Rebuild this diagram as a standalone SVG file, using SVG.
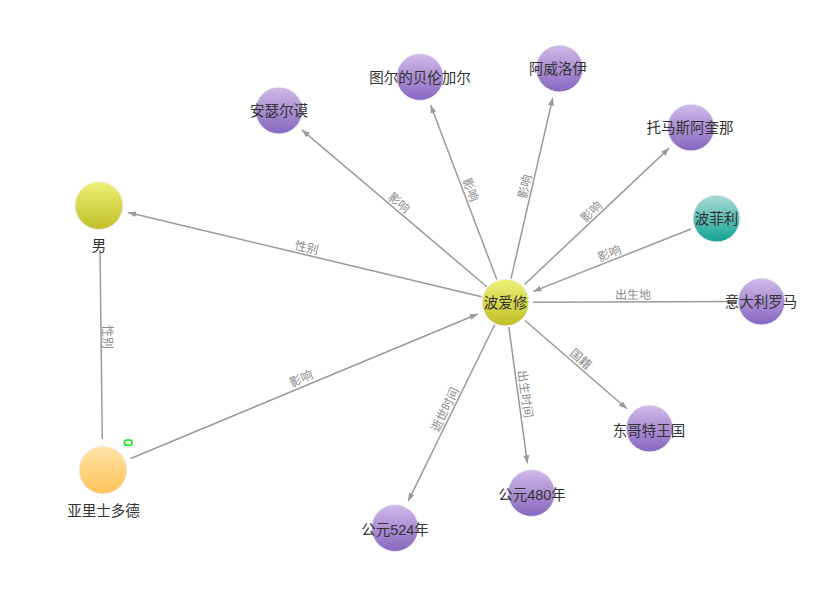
<svg xmlns="http://www.w3.org/2000/svg" width="832" height="602" viewBox="0 0 832 602">
<style>
.edge{stroke:#9a9a9a;stroke-width:1.5;fill:none}
.arr{marker-end:url(#ah)}
.el{font-family:"Liberation Sans","Noto Sans CJK SC",sans-serif;font-size:12px;fill:#8c8c8c;text-anchor:middle}
.nl{font-family:"Liberation Sans","Noto Sans CJK SC",sans-serif;font-size:14.5px;fill:#333;text-anchor:middle}
.purple{fill:url(#gPurple)}
.yellow{fill:url(#gYellow)}
.teal{fill:url(#gTeal)}
.orange{fill:url(#gOrange)}
.node circle{stroke:#f4f0f8;stroke-width:1}
</style>
<defs>
<linearGradient id="gPurple" x1="0" y1="0" x2="0" y2="1"><stop offset="0" stop-color="#cfbbe8"/><stop offset="1" stop-color="#8766c0"/></linearGradient>
<linearGradient id="gYellow" x1="0" y1="0" x2="0" y2="1"><stop offset="0" stop-color="#eef277"/><stop offset="1" stop-color="#c0bf28"/></linearGradient>
<linearGradient id="gTeal" x1="0" y1="0" x2="0" y2="1"><stop offset="0" stop-color="#abdcd7"/><stop offset="1" stop-color="#11a293"/></linearGradient>
<linearGradient id="gOrange" x1="0" y1="0" x2="0" y2="1"><stop offset="0" stop-color="#ffe4a8"/><stop offset="1" stop-color="#ffc25a"/></linearGradient>
<marker id="ah" markerUnits="userSpaceOnUse" markerWidth="9" markerHeight="7" refX="8" refY="3.5" orient="auto"><path d="M0,0.5 L8,3.5 L0,6.5 Z" fill="#9a9a9a"/></marker>
</defs>
<rect width="832" height="602" fill="#fff"/>
<g id="connectors">
<line class="edge arr" x1="486.8" y1="286.7" x2="301.9" y2="129.9"/>
<line class="edge arr" x1="496.8" y1="279.6" x2="430.6" y2="105.1"/>
<line class="edge arr" x1="511" y1="278.6" x2="552.8" y2="97.7"/>
<line class="edge arr" x1="524.5" y1="284.5" x2="669.2" y2="148.1"/>
<line class="edge arr" x1="691" y1="229" x2="533.4" y2="291.4"/>
<line class="edge" x1="533" y1="302.3" x2="735" y2="301.6"/>
<line class="edge arr" x1="525" y1="320.5" x2="626.9" y2="408.7"/>
<line class="edge arr" x1="508.8" y1="326.8" x2="527.4" y2="463.3"/>
<line class="edge arr" x1="494.7" y1="324.5" x2="408.2" y2="501.1"/>
<line class="edge arr" x1="481.7" y1="296.8" x2="128.2" y2="212.5"/>
<line class="edge" x1="102.3" y1="439" x2="100" y2="250"/>
<line class="edge arr" x1="130.7" y1="458.5" x2="477.8" y2="314"/>
<g id="edge-labels">
<text class="el" transform="translate(394.4,208.3) rotate(40.3)" y="-3">影响</text>
<text class="el" transform="translate(463.7,192.4) rotate(69.2)" y="-3">影响</text>
<text class="el" transform="translate(531.9,188.2) rotate(-77)" y="-3">影响</text>
<text class="el" transform="translate(596.3,216.9) rotate(-43.3)" y="-3">影响</text>
<text class="el" transform="translate(612,260) rotate(-21.7)" y="-3">影响</text>
<text class="el" transform="translate(633,302) rotate(-0.2)" y="-3">出生地</text>
<text class="el" transform="translate(576,364.5) rotate(41.2)" y="-3">国籍</text>
<text class="el" transform="translate(518.1,395) rotate(82.2)" y="-3">出生时间</text>
<text class="el" transform="translate(451.5,412.8) rotate(-63.9)" y="-3">逝世时间</text>
<text class="el" transform="translate(305,254.6) rotate(13.4)" y="-3">性别</text>
<text class="el" transform="translate(100.5,337) rotate(90)" y="-2">性别</text>
<text class="el" transform="translate(304.3,386.3) rotate(-22.6)" y="-4">影响</text>
</g>
</g>
<g id="node-boaixiu" class="node"><circle class="yellow" cx="505.5" cy="302.5" r="23.5"/><text class="nl" x="505.5" y="307.5">波爱修</text></g>
<g id="node-nan" class="node"><circle class="yellow" cx="99" cy="205.5" r="24"/><text class="nl" x="99" y="251">男</text></g>
<g id="node-aristotle" class="node"><circle class="orange" cx="103" cy="470" r="24"/><text class="nl" x="103.5" y="516">亚里士多德</text></g>
<g id="node-anselm" class="node"><circle class="purple" cx="279" cy="110.5" r="23.5"/><text class="nl" x="279" y="115.5">安瑟尔谟</text></g>
<g id="node-berengar" class="node"><circle class="purple" cx="420" cy="77" r="23.5"/><text class="nl" x="420" y="83">图尔的贝伦加尔</text></g>
<g id="node-averroes" class="node"><circle class="purple" cx="559.5" cy="68.5" r="23.5"/><text class="nl" x="558" y="74">阿威洛伊</text></g>
<g id="node-aquinas" class="node"><circle class="purple" cx="691" cy="127.5" r="23.5"/><text class="nl" x="690" y="133">托马斯阿奎那</text></g>
<g id="node-porphyry" class="node"><circle class="teal" cx="716.5" cy="218.5" r="23.5"/><text class="nl" x="716.5" y="224">波菲利</text></g>
<g id="node-rome" class="node"><circle class="purple" cx="761.5" cy="301.5" r="23.5"/><text class="nl" x="761" y="307">意大利罗马</text></g>
<g id="node-ostrogoth" class="node"><circle class="purple" cx="649.5" cy="428.5" r="23.5"/><text class="nl" x="649" y="436">东哥特王国</text></g>
<g id="node-480" class="node"><circle class="purple" cx="531.5" cy="493" r="23.5"/><text class="nl" x="532" y="500">公元480年</text></g>
<g id="node-524" class="node"><circle class="purple" cx="395" cy="528" r="23.5"/><text class="nl" x="395" y="535">公元524年</text></g>
<rect x="124.3" y="440" width="7.8" height="5.3" rx="2.6" fill="#eaffea" stroke="#22e022" stroke-width="1.6"/>
</svg>
